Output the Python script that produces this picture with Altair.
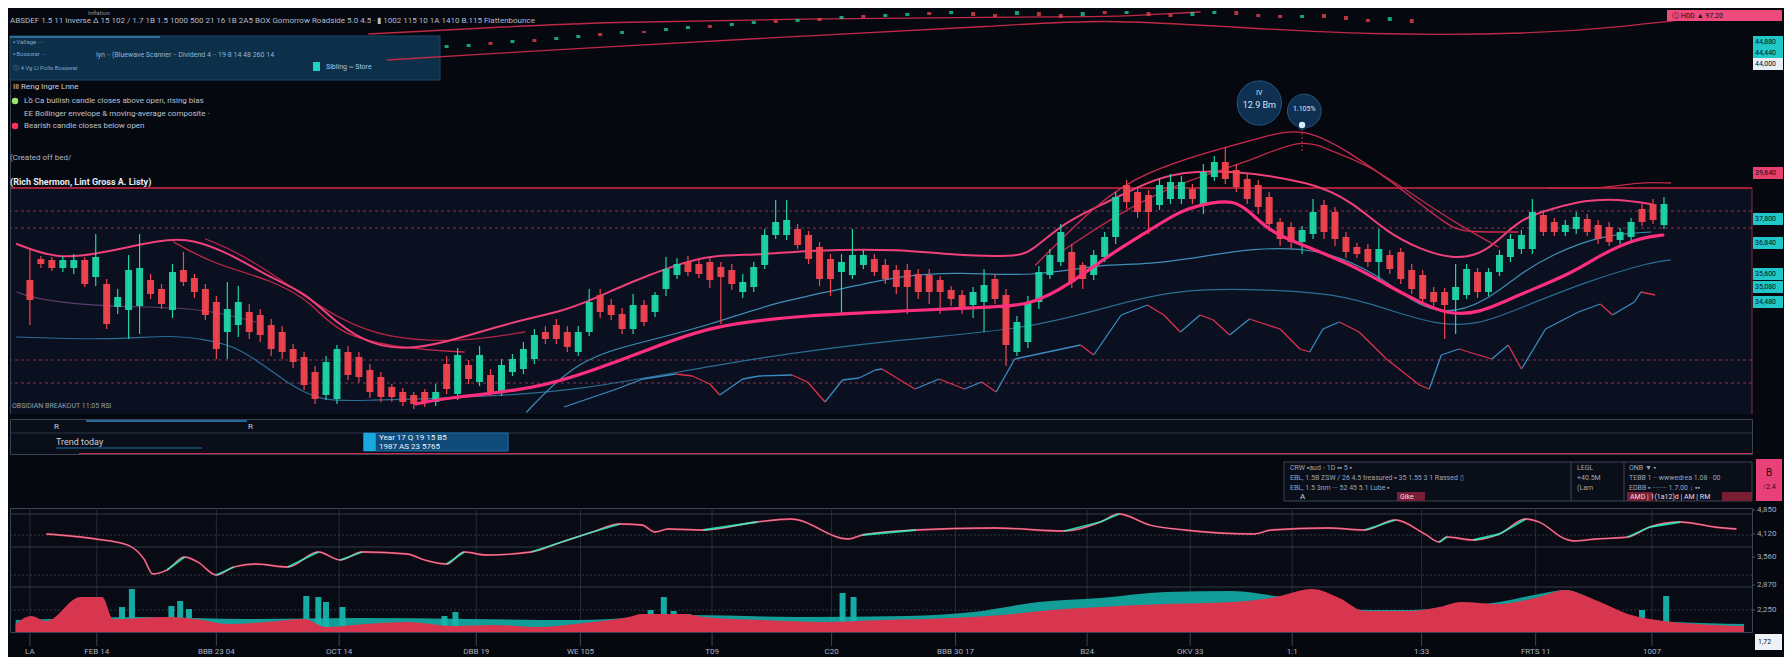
import altair as alt
import pandas as pd

# ---------------- layout constants ----------------
W = 1742
H = 404
X_DOM = [-1.36, 156.57]
FONT = "Roboto"
BG = "#06080f"
PANEL = "#0b1020"
UP = "#1ed6a6"
DOWN = "#f2444f"

# ---------------- candles (price index units) ----------------
c_open = [134,155,154,146,146,154,137,130,107,104,108,134,125,104,144,136,125,112,82,89,
          102,99,89,82,65,57,42,19,15,62,57,44,37,27,22,19,22,12,50,20,
          49,32,39,22,42,45,55,82,89,82,62,82,119,109,100,85,109,102,125,139,
          152,150,152,147,144,122,127,149,179,179,185,179,167,155,142,139,149,155,149,144,
          144,140,139,134,124,119,109,112,135,119,62,72,112,139,152,162,149,139,157,177,
          229,222,219,209,215,215,225,209,237,252,244,235,229,217,192,187,172,180,209,202,
          177,167,165,152,159,162,144,139,122,122,114,119,142,122,142,157,165,165,199,192,
          182,185,195,189,187,174,177,205,210,189]
c_close = [114,150,146,154,154,130,157,90,117,144,146,120,110,142,132,122,99,65,105,112,
           82,79,65,62,52,29,15,52,65,39,37,22,17,17,12,10,12,22,25,59,
           35,59,22,49,55,65,79,75,75,67,82,112,102,99,85,109,92,119,145,150,
           142,140,134,137,130,132,147,179,192,194,169,155,135,135,152,159,159,142,135,127,
           127,122,122,122,115,105,122,129,115,69,92,112,142,159,182,132,135,159,177,217,
           212,202,202,229,232,232,215,242,252,235,227,215,207,190,175,172,184,202,182,175,
           162,160,152,165,145,135,125,115,112,109,127,145,122,142,159,175,179,202,182,182,
           189,197,182,175,172,182,192,192,194,210]
c_high = [164,158,157,158,160,157,180,135,125,159,180,140,130,150,162,140,130,118,132,128,
          110,105,95,88,70,62,48,58,69,68,62,50,42,30,26,22,25,30,58,66,
          54,68,45,55,60,72,85,88,95,88,88,125,125,115,106,120,114,122,157,156,
          158,154,156,152,150,140,152,185,214,214,190,183,172,160,160,185,164,160,155,149,
          150,145,145,138,128,124,127,145,140,125,98,118,148,165,190,170,152,164,182,222,
          234,228,224,235,240,238,230,250,258,267,250,240,234,222,196,192,188,215,214,207,
          182,171,170,185,164,166,150,144,127,126,150,150,146,146,164,180,184,215,204,196,
          194,202,200,194,192,186,196,210,215,217]
c_low = [89,146,143,142,140,127,128,85,100,75,80,115,105,96,128,116,94,55,55,77,
         75,72,58,55,46,24,10,14,10,34,32,16,12,12,8,5,7,8,20,14,
         30,28,18,18,38,40,50,70,70,62,58,78,96,94,80,80,88,97,118,135,
         138,136,126,90,124,116,122,145,175,174,165,150,128,118,100,135,145,138,130,120,
         100,115,110,100,108,100,96,82,110,48,58,66,105,135,148,126,125,134,152,170,
         205,196,180,204,210,210,210,200,233,230,222,210,200,183,168,165,160,175,175,168,
         156,156,147,135,140,130,120,110,108,75,80,115,116,118,138,152,160,160,178,178,
         178,180,178,170,168,170,172,188,190,185]

# ---------------- faint preview candles (top strip) ----------------
m_idx = list(range(38, 127, 2))
m_open = [366,367,372,371,375,374,376,381,380,383,383,385,389,388,390,394,392,396,395,399,
          397,398,402,400,402,400,399,402,400,398,403,400,402,400,398,400,403,400,399,396,
          400,398,395,393,395]
m_close = [369,370,369,374,372,377,379,378,383,381,386,388,386,391,393,391,395,393,398,396,
           400,401,399,403,398,397,403,398,396,402,400,403,398,397,402,403,399,397,396,399,
           396,394,392,397,391]

# ---------------- overlay curves ----------------
upper_i = [-1.2,2.4,6.3,12.1,14.9,18.5,22.1,25.1,28.1,31.2,34.2,37.2,43.9,48.4,51.4,54.8,58.9,62.0,66.5,71.1,
           79.5,83.8,89.8,91.3,94.3,98.3,101.9,104.9,109.4,117.0,120.6,123.7,126.7,129.6,132.7,135.7,138.7,141.8,144.8,147.8]
upper_v = [170,155,160,175,175,159,135,122,89,69,65,69,92,102,115,132,149,159,159,164,
           165,159,157,162,192,212,232,242,244,232,212,182,165,155,159,195,205,214,215,210]
red1_i = [13.1,16.7,22.1,25.7,28.1,34.2,39.6]
red1_v = [172,150,134,112,79,65,62]
red2_i = [16.0,19.0,23.6,28.1,32.6,39.6,45.1]
red2_v = [175,162,129,95,75,72,82]
purple_i = [-1.2,0.9,7.0,15.4,20.6]
purple_v = [122,114,107,107,92]
blue_lo_i = [-1.2,7.0,13.1,15.4,19.0,23.6,26.7,31.2,36.0,39.6,49.9,65.0,79.5,91.3,98.8,104.9,112.1,119.4,123.7,128.2,
             132.1,135.7,141.8,147.8,149.6]
blue_lo_v = [77,74,79,75,69,29,12,14,15,17,22,55,75,85,109,125,125,120,105,89,89,105,132,152,154]
blue_mid_i = [45.3,49.9,55.9,62.0,68.0,74.1,79.5,84.9,91.3,97.6,101.9,107.9,111.0,117.6,123.0,126.0,129.1,132.7,135.7,138.7,143.2,147.8]
blue_mid_v = [2,55,72,89,112,125,139,142,137,150,149,159,165,167,139,112,99,112,139,159,179,182]
ma_i = [35.2,37.8,46.2,51.4,55.9,62.0,71.1,79.5,87.7,91.3,94.7,98.8,101.9,104.9,107.9,109.7,111.0,113.1,115.8,120.6,
        123.7,126.7,129.1,132.1,135.7,140.3,143.2,146.3,148.9]
ma_v = [10,16,25,44,62,89,99,103,107,109,129,162,182,204,212,213,205,182,170,149,129,112,100,100,119,139,159,175,179]
outer1_i = [91.7,97.4,101.5,107.7,111.9,116.0,120.2,125.1,129.6,131.2,135.7]
outer1_v = [149,212,241,263,275,288,263,225,185,182,182]
outer2_i = [94.0,99.5,104.9,111.2,116.0,118.8,122.1,126.7,130.3,133.9]
outer2_v = [162,202,232,252,277,262,249,215,189,167]
outer3_i = [138.4,143.2,146.6,149.6]
outer3_v = [226,225,232,231]
top_a_i = [30.9,41.4,52.3,70.4,88.6,97.6,101.6,106.7]
top_a_v = [380,386,392,395,397,397,399,402]
top_b_i = [32.6,41.4,52.3,70.4,88.6,97.6,109.6,121.7,137.6,144.8,151.2]
top_b_v = [354,360,367,378,388,395,387,379,380,387,395]
osc_i = [48.7,53.5,55.9,58.9,60.4,62.0,62.9,65.0,66.5,69.5,70.9,72.5,74.1,75.6,77.1,77.7,80.7,82.9,85.2,86.8,
         88.1,89.8,92.8,95.8,97.0,99.5,101.9,103.4,104.9,106.7,107.9,109.4,111.2,114.0,115.8,116.7,117.9,119.4,121.2,123.7,
         126.7,127.6,128.7,130.3,132.1,133.3,134.8,136.0,138.2,141.2,143.2,144.3,146.3,146.9,148.2]
osc_v = [7,25,35,40,38,30,19,35,38,39,32,12,34,36,44,45,25,35,25,32,
         22,55,62,69,59,99,109,99,82,99,94,79,95,85,65,62,85,92,82,55,
         29,25,59,65,59,55,69,45,85,102,110,99,112,122,119]

# levels
level_solid = [226]
level_dashed = [203, 186, 54, 31]

# price tags on the right axis
tag_cyan_v = [195, 171, 140, 127, 112, 372, 361]
tag_cyan_txt = ["37,800", "36,840", "35,600", "35,080", "34,480", "44,880", "44,440"]
tag_pink_v = [241]
tag_pink_txt = ["39,640"]
tag_white_v = [350]
tag_white_txt = ["44,000"]
axis_ticks = list(range(25, 405, 25))

# bubbles
bub_i = [112.1, 116.2]
bub_v = [311, 303]
bub_size = [1960, 1130]

# legend rows
leg_labels = ["Lồ Ca  bullish candle closes above open, rising bias",
              "EE  Bollinger envelope & moving-average composite  ·",
              "Bearish candle closes below open"]
leg_colors = ["#9be36b", "#2a3345", "#ff2f5e"]

# ---------------- lower panel ----------------
ind_i = [1.5,6.0,8.9,10.4,11.2,12.5,14.1,15.3,17.0,18.6,20.6,23.5,26.3,28.3,30.3,34.4,36.0,38.0,39.6,41.6,
         45.7,48.5,51.3,53.8,55.8,57.0,58.2,61.4,66.3,69.4,74.6,75.9,80.8,88.0,94.3,97.6,99.3,102.1,105.3,111.6,
         113.2,118.4,121.7,124.5,127.2,128.5,129.2,131.6,134.0,136.4,137.6,140.0,140.8,142.8,145.7,147.7,150.5,153.6,155.6]
ind_w = [98,93,87,73,58,62,75,70,57,65,68,65,80,72,80,78,72,68,80,77,
         80,90,100,108,107,100,103,102,110,113,93,97,102,104,101,110,118,107,102,98,
         102,104,102,112,98,90,95,92,98,113,110,93,91,93,95,105,110,105,103]
red_i = [-1.3,0.1,1.5,4.6,6.6,7.6,12.5,15.1,18.1,21.5,25.0,27.0,30.6,34.4,38.7,42.3,46.5,50.5,54.6,55.8,
         59.8,61.4,66.8,72.3,77.7,84.0,88.6,93.1,97.6,103.6,109.6,113.6,116.9,119.4,121.7,125.7,128.5,130.5,133.9,137.6,
         140.0,142.1,143.6,145.7,147.7,152.0,156.3]
red_w = [8,16,11,35,35,13,15,13,8,10,13,5,8,10,6,7,5,9,15,18,
         18,15,12,10,12,14,17,22,25,28,30,35,43,34,21,21,25,30,28,35,
         42,35,28,18,13,8,6]
cyan_i = [-1.3,5,10,20,30,40,50,60,70,80,86,92,97.6,103.6,109.6,113.6,117,122,126,130.5,134,137.6,140,143,146,150,156.3]
cyan_w = [12,14,15,13,14,13,12,17,15,16,20,30,34,40,41,36,30,22,22,26,30,38,42,30,16,10,8]
spike_i = [6.3,8.4,9.3,12.9,13.7,14.5,25.2,26.3,27.0,28.5,37.8,38.8,56.6,57.8,58.7,60.0,74.1,75.1,147.0,149.2]
spike_w = [30,25,43,26,31,23,36,35,30,25,16,20,22,35,21,18,39,35,22,36]
grid_solid = [118, 85, 45]
grid_dashed = [97, 57, 22]
x_ticks = [0, 6.1, 17.0, 28.2, 40.7, 50.2, 62.2, 73.1, 84.4, 96.4, 105.8, 115.1, 126.9, 137.3, 147.9]
x_labels = ["LA", "FEB 14", "BBB 23 04", "OCT 14", "DBB 19", "WE 105", "T09", "C20",
            "BBB 30 17", "B24", "OKV 33", "1:1", "1:33", "FRTS 11", "1007"]
low_ticks = [122, 98, 75, 47, 22]
low_labels = ["4,850", "4,120", "3,560", "2,870", "2,250"]

# ---------------- helpers ----------------
ONE = pd.DataFrame({"a": [0]})
xs = alt.Scale(domain=X_DOM, nice=False, zero=False)
ys = alt.Scale(domain=[0, H], nice=False, zero=False)
cscale = alt.Scale(domain=["up", "down"], range=[UP, DOWN])


def X(f="i"):
    return alt.X(f"{f}:Q", scale=xs, axis=None)


def Y(f="v", scale=ys):
    return alt.Y(f"{f}:Q", scale=scale, axis=None)


def curve(ii, vv, color, width, interp="basis", opacity=1.0, dash=None):
    df = pd.DataFrame({"i": ii, "v": vv})
    kw = dict(color=color, strokeWidth=width, interpolate=interp, opacity=opacity, strokeCap="round")
    if dash:
        kw["strokeDash"] = dash
    return alt.Chart(df).mark_line(**kw).encode(x=X(), y=Y())


def txt(x, y, s, size=8, color="#aab4c4", weight="normal", align="left", baseline="middle"):
    return alt.Chart(ONE).mark_text(text=s, fontSize=size, color=color, fontWeight=weight,
                                    align=align, baseline=baseline, font=FONT).encode(
        x=alt.value(x), y=alt.value(y))


def box(x1, x2, y1, y2, fill, stroke="transparent", opacity=1.0, sw=1):
    return alt.Chart(ONE).mark_rect(fill=fill, stroke=stroke, opacity=opacity, strokeWidth=sw).encode(
        x=alt.value(x1), x2=alt.value(x2), y=alt.value(y1), y2=alt.value(y2))


def hline(x1, x2, y, color, width=1, dash=None, opacity=1.0):
    kw = dict(color=color, strokeWidth=width, opacity=opacity)
    if dash:
        kw["strokeDash"] = dash
    return alt.Chart(ONE).mark_rule(**kw).encode(x=alt.value(x1), x2=alt.value(x2), y=alt.value(y))


def vline(x, y1, y2, color, width=1):
    return alt.Chart(ONE).mark_rule(color=color, strokeWidth=width).encode(
        x=alt.value(x), y=alt.value(y1), y2=alt.value(y2))


# ---------------- main panel ----------------
cdf = pd.DataFrame({"i": list(range(len(c_open))), "o": c_open, "c": c_close, "h": c_high, "l": c_low})
cdf["dir"] = ["up" if c >= o else "down" for o, c in zip(c_open, c_close)]
mdf = pd.DataFrame({"i": m_idx, "o": m_open, "c": m_close})
mdf["dir"] = ["up" if c >= o else "down" for o, c in zip(m_open, m_close)]

panel_bg = alt.Chart(pd.DataFrame({"top": [226], "bot": [0]})).mark_rect(fill=PANEL).encode(
    x=alt.value(0), x2=alt.value(W), y=Y("top"), y2=alt.Y2("bot:Q"))

lv_solid = alt.Chart(pd.DataFrame({"v": level_solid})).mark_rule(color="#d92a45", strokeWidth=1.6).encode(y=Y())
lv_dash = alt.Chart(pd.DataFrame({"v": level_dashed})).mark_rule(
    color="#b3344c", strokeWidth=1, strokeDash=[3, 3], opacity=0.85).encode(y=Y())

mini = alt.Chart(mdf).mark_bar(size=4, opacity=0.75).encode(
    x=X(), y=Y("o"), y2=alt.Y2("c:Q"), color=alt.Color("dir:N", scale=cscale, legend=None))

seg_rows = []
for k in range(len(osc_i) - 1):
    d = "up" if osc_v[k + 1] >= osc_v[k] else "down"
    seg_rows.append({"seg": k, "i": osc_i[k], "v": osc_v[k], "d": d})
    seg_rows.append({"seg": k, "i": osc_i[k + 1], "v": osc_v[k + 1], "d": d})
segdf = pd.DataFrame(seg_rows)
osc_up = alt.Chart(segdf).transform_filter("datum.d == 'up'").mark_line(
    color="#3a8cc2", strokeWidth=1.3).encode(x=X(), y=Y(), detail="seg:N")
osc_dn = alt.Chart(segdf).transform_filter("datum.d == 'down'").mark_line(
    color="#e0304e", strokeWidth=1.3).encode(x=X(), y=Y(), detail="seg:N")

wick = alt.Chart(cdf).mark_rule(strokeWidth=1.2).encode(
    x=X(), y=Y("l"), y2=alt.Y2("h:Q"), color=alt.Color("dir:N", scale=cscale, legend=None))
body = alt.Chart(cdf).mark_bar(size=7, opacity=0.95).encode(
    x=X(),
    y=alt.Y("o:Q", scale=ys, axis=alt.Axis(
        orient="right", values=axis_ticks,
        labelExpr="format(30000 + datum.value * 40, ',')",
        labelColor="#a3acbb", labelFontSize=8, labelFont=FONT, tickColor="#4a5263", tickSize=3,
        domain=True, domainColor="#3a4252", grid=False, labelPadding=2, title=None)),
    y2=alt.Y2("c:Q"),
    color=alt.Color("dir:N", scale=cscale, legend=None))

bub = alt.Chart(pd.DataFrame({"i": bub_i, "v": bub_v, "s": bub_size})).mark_circle(
    fill="#0f3050", stroke="#24577d", strokeWidth=1, opacity=1).encode(
    x=X(), y=Y(), size=alt.Size("s:Q", scale=None, legend=None))
marker_line = alt.Chart(pd.DataFrame({"i": [116.0], "v": [289], "v2": [262]})).mark_rule(
    color="#c8284a", strokeDash=[2, 2]).encode(x=X(), y=Y(), y2=alt.Y2("v2:Q"))
marker = alt.Chart(pd.DataFrame({"i": [116.0], "v": [289]})).mark_circle(
    size=70, fill="#d7ecff", stroke="#0f3050", strokeWidth=2, opacity=1).encode(x=X(), y=Y())
bub_txt = alt.Chart(pd.DataFrame({"i": [112.1, 112.1, 116.2], "v": [321, 309, 305],
                                  "t": ["IV", "12.9 Bm", "1.105%"], "s": [7, 9, 7]})).mark_text(
    color="#d3e6f7", font=FONT).encode(x=X(), y=Y(), text="t:N", size=alt.Size("s:Q", scale=None, legend=None))


def tags(vs, ts, fill, tcolor="#061018"):
    df = pd.DataFrame({"v": vs, "top": [v + 6 for v in vs], "bot": [v - 6 for v in vs], "t": ts})
    r = alt.Chart(df).mark_rect(fill=fill).encode(
        x=alt.value(W + 1), x2=alt.value(W + 31), y=Y("top"), y2=alt.Y2("bot:Q"))
    t = alt.Chart(df).mark_text(color=tcolor, fontSize=7, align="left", font=FONT).encode(
        x=alt.value(W + 3), y=Y(), text="t:N")
    return [r, t]


# manual legend (key rows under the header box)
leg_df = pd.DataFrame({"row": [0, 1, 2], "lab": leg_labels, "col": leg_colors, "y": [91, 104, 116]})
leg_dots = alt.Chart(leg_df).transform_filter("datum.row != 1").mark_circle(size=42, opacity=1).encode(
    x=alt.value(5), y=alt.Y("y:Q", scale=None), color=alt.Color("col:N", scale=None))
leg_txt = alt.Chart(leg_df).mark_text(align="left", fontSize=8, color="#b8c1cf", font=FONT).encode(
    x=alt.value(14), y=alt.Y("y:Q", scale=None), text="lab:N")

main_layers = [
    panel_bg,
    box(0, 430, 26, 70, "#0f3d5e", stroke="#1f5f8a", opacity=0.75),
    hline(0, 150, 27, "#4f8fbf", width=2, opacity=0.6),
    lv_solid, lv_dash,
    curve(top_a_i, top_a_v, "#c02848", 1.3),
    curve(top_b_i, top_b_v, "#c02848", 1.3),
    mini,
    curve(purple_i, purple_v, "#5b3b6b", 1.2),
    curve(blue_lo_i, blue_lo_v, "#2a6d94", 1.2),
    curve(blue_mid_i, blue_mid_v, "#3d8fb8", 1.2),
    curve(red1_i, red1_v, "#c8284a", 1.3),
    curve(red2_i, red2_v, "#b02445", 1.3),
    curve(upper_i, upper_v, "#f0407a", 2),
    curve(outer1_i, outer1_v, "#d02a50", 1.3),
    curve(outer2_i, outer2_v, "#c02848", 1.3),
    curve(outer3_i, outer3_v, "#c02848", 1.3),
    osc_up, osc_dn,
    wick, body,
    curve(ma_i, ma_v, "#ff2f7e", 3.2),
    bub, marker_line, marker, bub_txt,
    vline(0.5, 70, H, "#3b4456"),
    vline(W, H - 226, H, "#7a3046"),
]
main_layers += tags(tag_cyan_v, tag_cyan_txt, "#1fc7c9")
main_layers += tags(tag_pink_v, tag_pink_txt, "#e8416f")
main_layers += tags(tag_white_v, tag_white_txt, "#e9eef5")
main_layers += [
    box(1657, W + 30, 0, 11, "#ee4a7c"),
    txt(1662, 6, "ⓘ  HDD  ▲ 97.20", size=7, color="#1a0810"),
    txt(78, 3, "Inflation", size=6, color="#8a95a6"),
    txt(0, 11, "ABSDEF 1.5 11 Inverse  Δ 15 102 / 1.7 1B 1.5 1000 500 21 16 1B 2A5  BOX  Gomorrow  Roadside 5.0  4.5  ·  ▮ 1002  115  10 1A 1410  B.115  Flattenbounce",
        size=8, color="#b3bccb"),
    txt(3, 32, "▪ Vallage ····", size=6, color="#7fa6c8"),
    txt(3, 44, "▪ Bosswar ···", size=6, color="#7fa6c8"),
    txt(3, 58, "ⓘ 4 Vg Ll Polls Bosswar", size=6, color="#7fa6c8"),
    txt(86, 45, "lyn ·· (Bluewave Scanner ·· Dividend 4 ·· 19·8 14 48 260 14", size=7, color="#8fb6d8"),
    box(303, 310, 52, 61, "#1fd1c0"),
    txt(316, 57, "Sibling  ~  Store", size=7, color="#a8c8e2"),
    txt(3, 77, "Ill Reng Ingre Lnne", size=8, color="#c9d1dd"),
    leg_dots, leg_txt,
    txt(0, 148, "(Created off bed/", size=8, color="#b0b8c6"),
    txt(0, 172, "(Rich Shermon, Lint Gross A. Listy)", size=9, color="#e6ebf2", weight="bold"),
    txt(2, 396, "OBSIDIAN BREAKOUT 11:05 RSI", size=7, color="#8fa0a8"),
]
main = alt.layer(*main_layers).properties(
    width=W, height=H, view=alt.ViewBackground(fill=BG, stroke="transparent"))

# ---------------- navigator strip ----------------
NH = 35
nav_sel = alt.Chart(pd.DataFrame({"i1": [30.7], "i2": [43.8]})).mark_rect(
    fill="#104a78", stroke="#1a6fa8").encode(x=X("i1"), x2=alt.X2("i2:Q"), y=alt.value(14), y2=alt.value(32))
nav_strip = alt.Chart(pd.DataFrame({"i1": [30.7], "i2": [31.8]})).mark_rect(fill="#18a9e0").encode(
    x=X("i1"), x2=alt.X2("i2:Q"), y=alt.value(14), y2=alt.value(32))
nav = alt.layer(
    hline(0, W, 14, "#2c3444"),
    hline(76, 237, 2, "#2d7fb8", width=2, opacity=0.8),
    txt(44, 8, "R", size=8, color="#c7d0dc"),
    txt(238, 8, "R", size=8, color="#c7d0dc"),
    txt(46, 23, "Trend today", size=9, color="#c7d0dc"),
    hline(46, 192, 29, "#1f6fa0", width=1.5, opacity=0.7),
    nav_sel, nav_strip,
    txt(369, 19, "Year  17  Q 19  15  B5", size=8, color="#eef4fa"),
    txt(369, 28, "1987  AS  23  5765", size=8, color="#eef4fa"),
    hline(69, W, NH - 0.5, "#c8284a", width=1.2),
).properties(width=W, height=NH, view=alt.ViewBackground(fill="#0a0e19", stroke="#3b4456"))

# ---------------- info box ----------------
IH = 42
info = alt.layer(
    box(1274, W, 3, 42, "#0a0e18", stroke="#3b4456"),
    vline(1561, 3, 42, "#3b4456"),
    vline(1614, 3, 42, "#3b4456"),
    txt(1280, 9, "CRW  ▪aud     ◦ 1D          ▪▪ 5          ▪", size=7, color="#9aa6b8"),
    txt(1280, 19, "EBL, 1.5B ZSW / 26 4.5 treasured  ▪     35 1.55 3 1 Rassed  ▯", size=7, color="#9aa6b8"),
    txt(1280, 29, "EBL, 1.5 3nm ··· 52 45 5.1 Lube  ▪", size=7, color="#9aa6b8"),
    txt(1290, 38, "A", size=8, color="#c7d0dc"),
    box(1387, 1415, 33, 42, "#7a1f33"),
    txt(1390, 38, "Gike", size=7, color="#f3dbe2"),
    txt(1567, 9, "LEGL", size=7, color="#9aa6b8"),
    txt(1567, 19, "+40.5M", size=7, color="#9aa6b8"),
    txt(1567, 29, "(Lam", size=7, color="#9aa6b8"),
    txt(1619, 9, "ONB ▼                        ▪", size=7, color="#9aa6b8"),
    txt(1619, 19, "TEBB 1  ·· wwwedrea 1.08 · 00", size=7, color="#9aa6b8"),
    txt(1619, 29, "EDBB ▪  ········ 1.7.00 ↓ ▪▪", size=7, color="#9aa6b8"),
    box(1617, 1643, 33, 42, "#7a1f33"),
    box(1712, W, 33, 42, "#7a1f33"),
    txt(1620, 38, "AMD  |  1(1a12)d  |  AM  |  RM", size=7, color="#f0dde3"),
    box(W + 4, W + 30, 0, 42, "#e8417a"),
    txt(W + 17, 14, "B", size=10, color="#2a0712", align="center"),
    txt(W + 17, 28, "↑2.4", size=7, color="#2a0712", align="center"),
).properties(width=W, height=IH, view=alt.ViewBackground(fill="transparent", stroke="transparent"))

# ---------------- lower indicator / volume panel ----------------
LH = 124
yl = alt.Scale(domain=[0, LH], nice=False, zero=False)


def YL(f="w"):
    return alt.Y(f"{f}:Q", scale=yl, axis=None)


g_solid = alt.Chart(pd.DataFrame({"w": grid_solid})).mark_rule(color="#323a4a").encode(y=YL())
g_dash = alt.Chart(pd.DataFrame({"w": grid_dashed})).mark_rule(color="#323a4a", strokeDash=[2, 2]).encode(y=YL())

xt_df = pd.DataFrame({"i": x_ticks, "lab": x_labels})
x_grid = alt.Chart(xt_df).mark_rule(color="#252c3a").encode(x=X(), y=alt.value(0), y2=alt.value(LH))
x_tick = alt.Chart(xt_df).mark_rule(color="#3b4456").encode(x=X(), y=alt.value(LH), y2=alt.value(LH + 14))
x_lab = alt.Chart(xt_df).mark_text(color="#a9b2c0", fontSize=8, font=FONT, baseline="middle").encode(
    x=X(), y=alt.value(LH + 20), text="lab:N")

yt_df = pd.DataFrame({"w": low_ticks, "lab": low_labels})
y_tick = alt.Chart(yt_df).mark_rule(color="#4a5263").encode(x=alt.value(W), x2=alt.value(W + 3), y=YL())
y_lab = alt.Chart(yt_df).mark_text(color="#a3acbb", fontSize=8, font=FONT, align="left").encode(
    x=alt.value(W + 5), y=YL(), text="lab:N")

cyan_area = alt.Chart(pd.DataFrame({"i": cyan_i, "w": cyan_w})).mark_area(
    color="#13a69f", opacity=0.95, interpolate="monotone").encode(x=X(), y=YL())
spikes = alt.Chart(pd.DataFrame({"i": spike_i, "w": spike_w})).mark_bar(
    size=6, color="#17b3ad", opacity=0.95).encode(x=X(), y=YL())
red_area = alt.Chart(pd.DataFrame({"i": red_i, "w": red_w})).mark_area(
    color="#d8354f", opacity=1, interpolate="monotone").encode(x=X(), y=YL())

ind_df = pd.DataFrame({"i": ind_i, "w": ind_w})
ind_red = alt.Chart(ind_df).mark_line(color="#e0335a", strokeWidth=1.8, interpolate="monotone").encode(
    x=X(), y=YL())
ind_white = alt.Chart(ind_df).mark_line(color="#e6eaf0", strokeWidth=0.8, opacity=0.55,
                                        interpolate="monotone").encode(x=X(), y=YL())
rise_rows = []
for k in range(len(ind_i) - 1):
    if ind_w[k + 1] - ind_w[k] >= 5:
        rise_rows.append({"seg": k, "i": ind_i[k], "w": ind_w[k]})
        rise_rows.append({"seg": k, "i": ind_i[k + 1], "w": ind_w[k + 1]})
ind_cyan = alt.Chart(pd.DataFrame(rise_rows)).mark_line(color="#22d3a6", strokeWidth=1.8).encode(
    x=X(), y=YL(), detail="seg:N")

lower = alt.layer(
    x_grid, g_solid, g_dash, cyan_area, spikes, red_area, ind_red, ind_cyan, ind_white,
    x_tick, x_lab, y_tick, y_lab,
    box(W + 3, W + 30, 126, 142, "#eef2f7"),
    txt(W + 6, 134, "1,72", size=7, color="#10141c"),
).properties(width=W, height=LH, view=alt.ViewBackground(fill="#080b14", stroke="#3b4456"))

chart = alt.vconcat(main, nav, info, lower, spacing=3).properties(
    background=BG, padding=0).configure(font=FONT)

chart.save("out.html", embed_options={"renderer": "svg", "actions": False})
